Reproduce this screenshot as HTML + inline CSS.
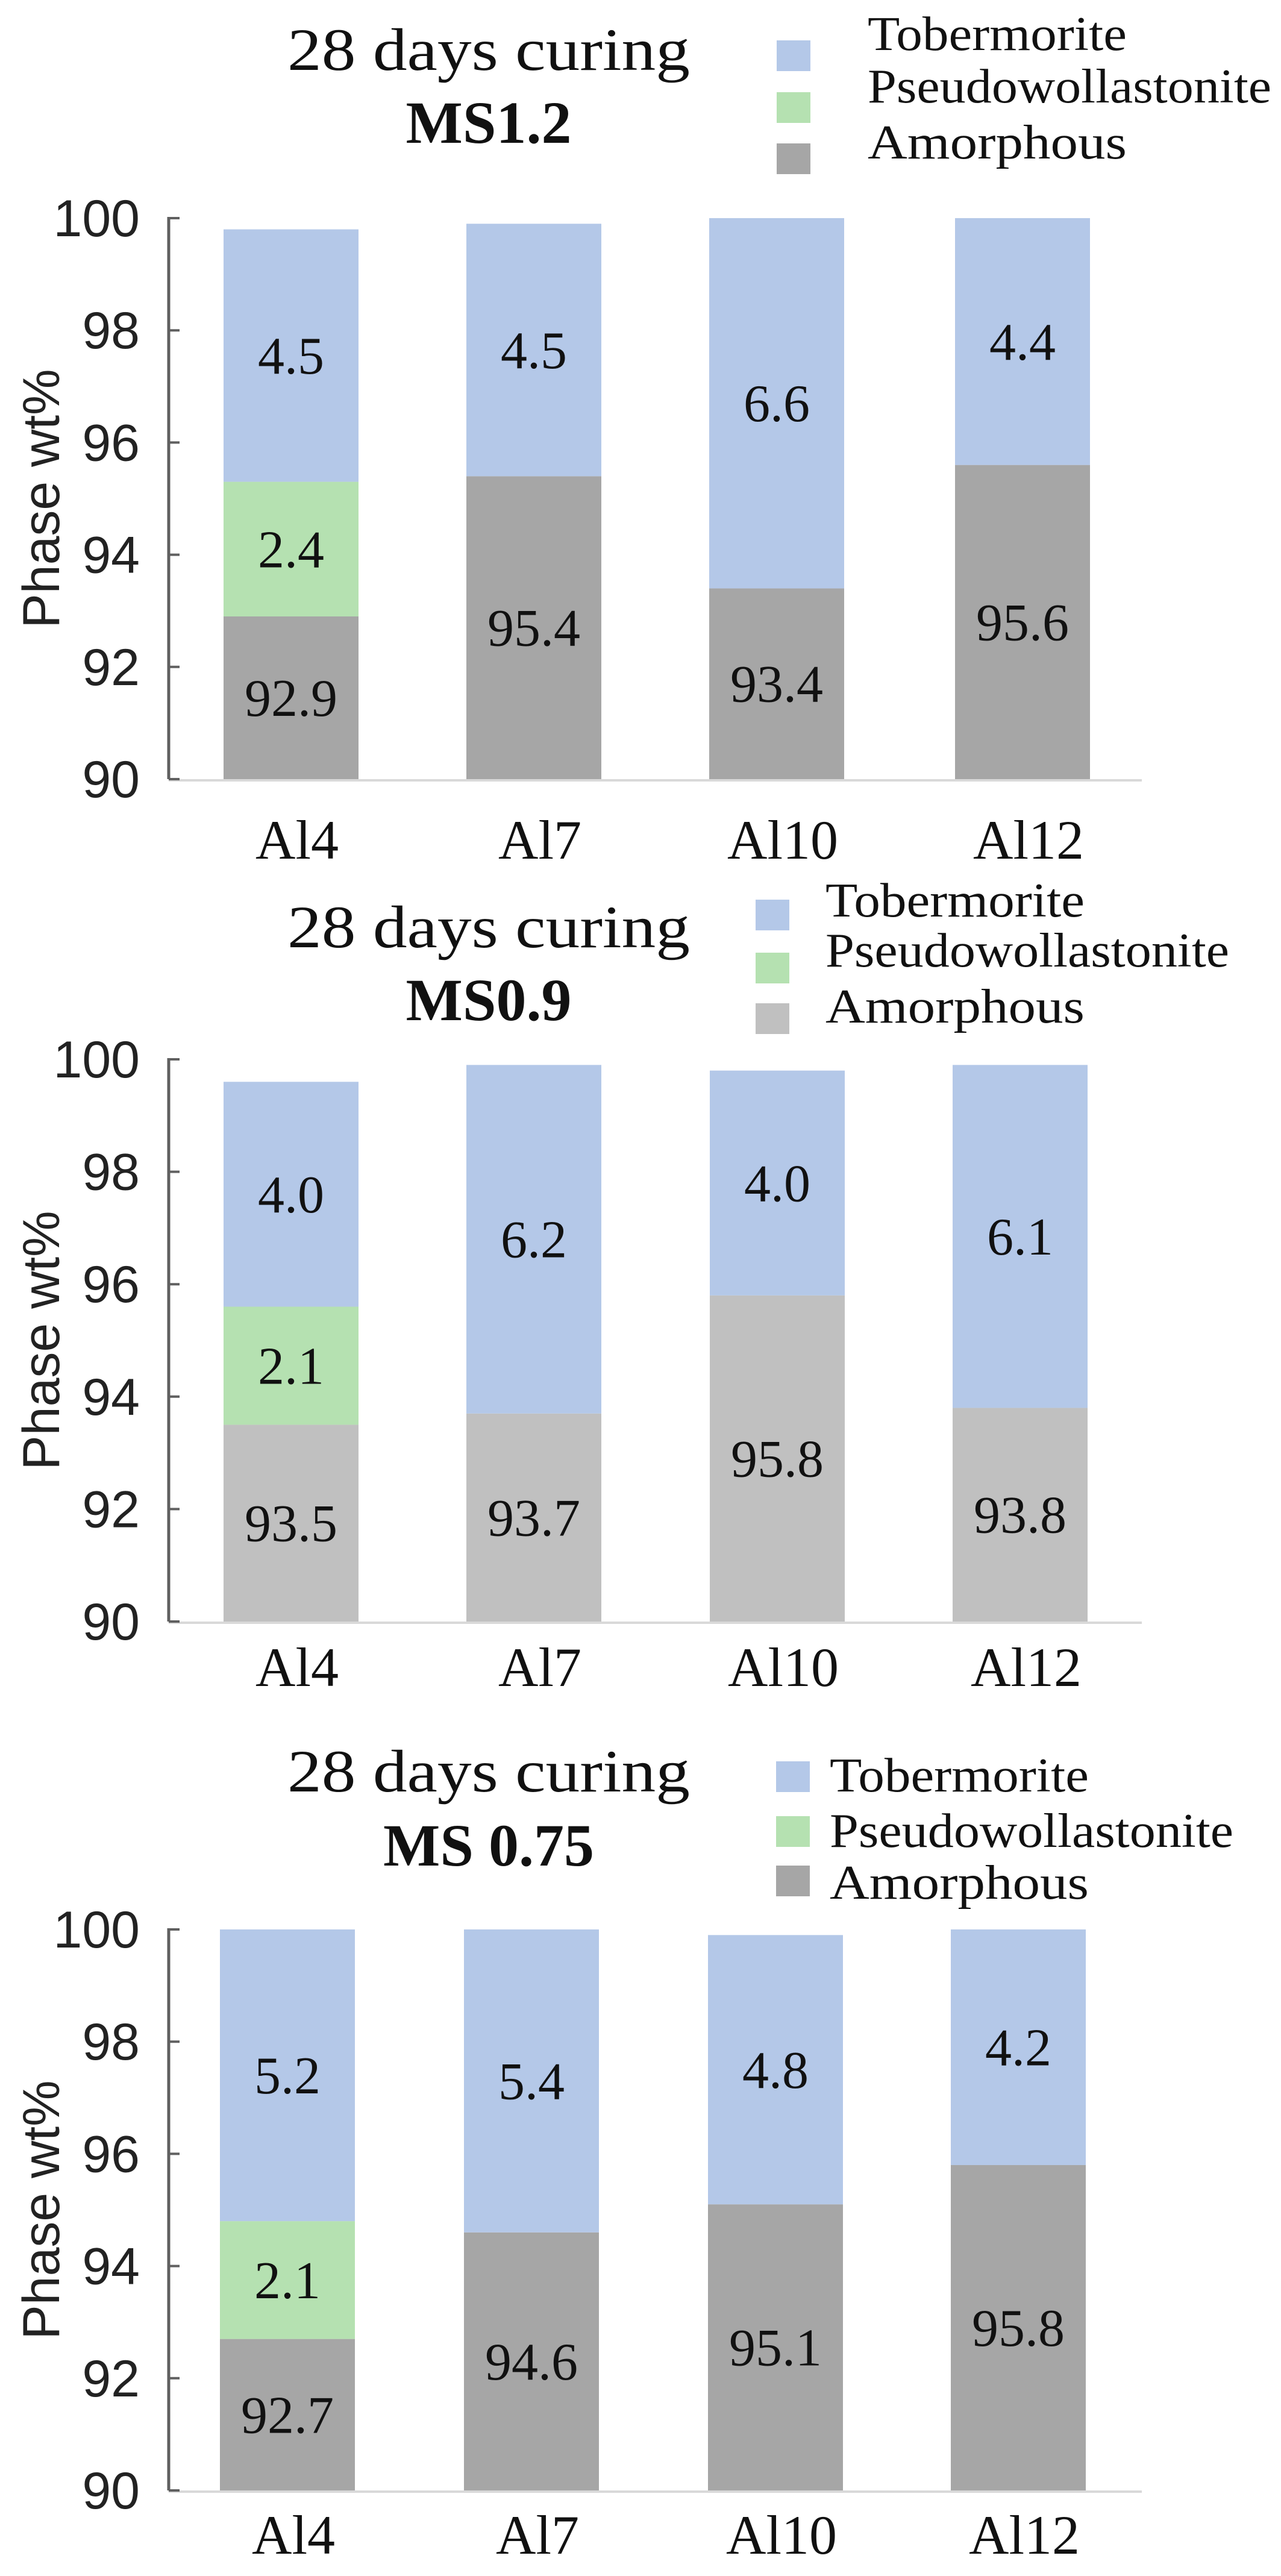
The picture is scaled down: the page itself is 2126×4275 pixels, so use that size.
<!DOCTYPE html>
<html><head><meta charset="utf-8"><style>
html,body{margin:0;padding:0;background:#fff;}
svg{display:block;}
.serif{font-family:"Liberation Serif",serif;fill:#111;}
.sans{font-family:"Liberation Sans",sans-serif;fill:#222;}
</style></head><body>
<svg id="chart" width="2126" height="4275" viewBox="0 0 2126 4275" xmlns="http://www.w3.org/2000/svg"></svg>
<script>
const categories = ["Al4","Al7","Al10","Al12"];
const yTicks = [90,92,94,96,98,100];
const panelTitles = ["MS1.2","MS0.9","MS 0.75"];
const amorphous1 = [92.9,95.4,93.4,95.6];
const pseudo1 = [2.4,0,0,0];
const tober1 = [4.5,4.5,6.6,4.4];
const amorphous2 = [93.5,93.7,95.8,93.8];
const pseudo2 = [2.1,0,0,0];
const tober2 = [4.0,6.2,4.0,6.1];
const amorphous3 = [92.7,94.6,95.1,95.8];
const pseudo3 = [2.1,0,0,0];
const tober3 = [5.2,5.4,4.8,4.2];

const NS="http://www.w3.org/2000/svg";
const svg=document.getElementById('chart');
function mk(tag,attrs,parent){const e=document.createElementNS(NS,tag);for(const k in attrs)e.setAttribute(k,attrs[k]);(parent||svg).appendChild(e);return e;}

const layouts=[
 {top:362,bottom:1293,lefts:[371,774,1177,1585],titleY:116,msY:237,legX:1289,legTextX:1440,legY:[67,153,238],legBase:[83,170,263],xlabY:1425,amColor:"#a6a6a6"},
 {top:1758,bottom:2691,lefts:[371,774,1178,1581],titleY:1572,msY:1693,legX:1254,legTextX:1370,legY:[1493,1581,1665],legBase:[1521,1604,1697],xlabY:2798,amColor:"#c0c0c0"},
 {top:3202,bottom:4133,lefts:[365,770,1175,1578],titleY:2973,msY:3096,legX:1288,legTextX:1377,legY:[2923,3014,3096],legBase:[2973,3065,3151],xlabY:4238,amColor:"#a6a6a6"}
];
const data=[[amorphous1,pseudo1,tober1],[amorphous2,pseudo2,tober2],[amorphous3,pseudo3,tober3]];
const blue="#b4c8e8", green="#b5e1b1";
const barW=224, axisX=280;

layouts.forEach((L,pi)=>{
  const g=mk('g',{});
  
  
  const y=v=>L.bottom-(v-90)/10*(L.bottom-L.top);
  // title
  const t1=mk('text',{x:811,y:L.titleY,'text-anchor':'middle','font-size':100,class:'serif',textLength:668,lengthAdjust:'spacingAndGlyphs'},g);
  t1.textContent="28 days curing";
  
  
  const t2=mk('text',{x:811,y:L.msY,'text-anchor':'middle','font-size':100,'font-weight':'bold',class:'serif'},g);
  t2.textContent=panelTitles[pi];
  
  
  // legend
  const legNames=["Tobermorite","Pseudowollastonite","Amorphous"];
  const legCols=[blue,green,L.amColor];
  const legW=[430,670,430];
  legNames.forEach((n,i)=>{
    const r=mk('rect',{x:L.legX,y:L.legY[i],width:56,height:51,fill:legCols[i]},g);
    
    
    const tx=mk('text',{x:L.legTextX,y:L.legBase[i],'font-size':80,class:'serif',textLength:legW[i],lengthAdjust:'spacingAndGlyphs'},g);
    tx.textContent=n;
    
    
  });
  // y axis title
  const yc=(L.top+L.bottom)/2;
  const yt=mk('text',{x:68,y:yc,'text-anchor':'middle','font-size':86,class:'sans',transform:'rotate(-90 68 '+yc+') translate(0 30)'},g);
  yt.textContent="Phase wt%";
  
  
  // bars
  const [am,ps,tb]=data[pi];
  categories.forEach((c,i)=>{
    const x=L.lefts[i];
    const segs=[[90,am[i],L.amColor,am[i]],[am[i],am[i]+ps[i],green,ps[i]],[am[i]+ps[i],am[i]+ps[i]+tb[i],blue,tb[i]]];
    const names=['amorphous','pseudowollastonite','tobermorite'];
    segs.forEach((s,si)=>{
      if(s[3]<=0)return;
      const r=mk('rect',{x:x,y:y(s[1]),width:barW,height:y(s[0])-y(s[1]),fill:s[2]},g);
      
      
      const lt=mk('text',{x:x+barW/2,y:(y(s[0])+y(s[1]))/2+30,'text-anchor':'middle','font-size':88,class:'serif'},g);
      lt.textContent=s[3].toFixed(1);
      
      
    });
    const xl=mk('text',{x:x+barW/2+10,y:L.xlabY,'text-anchor':'middle','font-size':92,class:'serif'},g);
    xl.textContent=c;
    
    
  });
  // axes
  const xa=mk('line',{x1:axisX,y1:L.bottom+2,x2:1895,y2:L.bottom+2,stroke:'#d9d9d9','stroke-width':4},g);
  
  
  const ya=mk('line',{x1:axisX,y1:L.top-2,x2:axisX,y2:L.bottom,stroke:'#606060','stroke-width':5},g);
  
  
  yTicks.forEach(v=>{
    const tk=mk('line',{x1:axisX,y1:y(v),x2:axisX+18,y2:y(v),stroke:'#606060','stroke-width':4},g);
    
    
    const tl=mk('text',{x:232,y:y(v)+30,'text-anchor':'end','font-size':86,class:'sans'},g);
    tl.textContent=v;
    
    
  });
});
</script>
</body></html>
